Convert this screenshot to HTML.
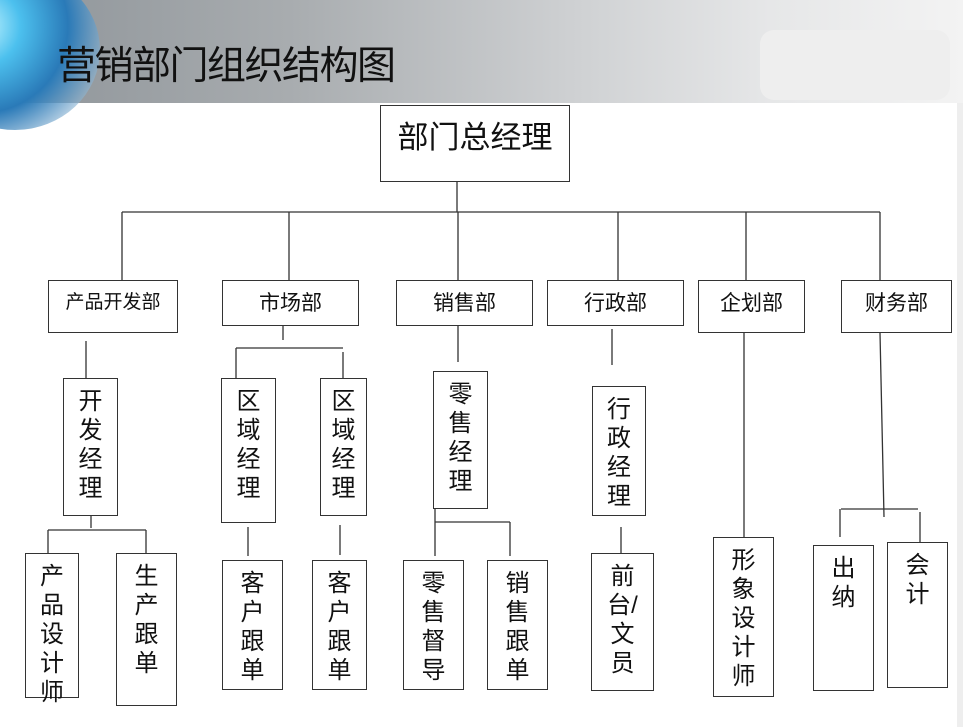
<!DOCTYPE html>
<html><head><meta charset="utf-8"><style>
body{margin:0;width:963px;height:727px;overflow:hidden;background:#fff;font-family:"Liberation Sans","Noto Sans CJK SC",sans-serif;position:relative}
.hdr{position:absolute;left:0;top:0;width:963px;height:103px;background:linear-gradient(90deg,#8e9499 0%,#a8acaf 30%,#cfd1d3 60%,#e6e7e8 80%,#f3f3f3 100%)}
.globe{position:absolute;left:-70px;top:-30px;width:170px;height:160px;border-radius:50%;background:radial-gradient(circle at 30% 35%,#c8f6ff 0%,#4cc0ee 25%,#2a7ab8 55%,rgba(190,210,225,0.5) 85%,rgba(220,228,235,0.2) 100%)}
.title{position:absolute;left:57px;top:35px;font-size:39px;color:#111;letter-spacing:-1.5px}
.blur{position:absolute;left:760px;top:30px;width:190px;height:70px;background:#eee;border-radius:14px}
.b{position:absolute;border:1.5px solid #333;box-sizing:border-box;background:#fff;text-align:center;color:#111}
.h{font-size:21px;padding-top:6px}
.v{font-size:24px;line-height:29px;padding-top:8px}
svg{position:absolute;left:0;top:0}
</style></head><body>
<div class="hdr"></div><div class="globe"></div><div class="blur"></div>
<div class="title">营销部门组织结构图</div>
<div style="position:absolute;right:0;top:103px;width:6px;height:624px;background:#eee"></div>
<svg width="963" height="727" stroke="#333" stroke-width="1.3" fill="none">
<path d="M457 181V212M122 212H880M122 212V281M289 212V281M458 212V281M618 212V281M746 212V281M880 212V281"/>
<path d="M86 341V378M91 515V528M48 530H146M48 530V553M146 530V553"/>
<path d="M283 325V340M236 348H343M236 348V378M343 352V378M248 527V556M340 525V555"/>
<path d="M458 325V362M435 508V522M435 522H510M435 522V556M510 522V556"/>
<path d="M612 329V365M621 527V553"/>
<path d="M744 333V538"/>
<path d="M880 333L884 517M841 509H918M840 509V537M920 512V543"/>
</svg>
<div class="b" style="left:380px;top:105px;width:190px;height:77px;font-size:31px;padding-top:6px">部门总经理</div>
<div class="b h" style="left:48px;top:280px;width:130px;height:53px;font-size:19px">产品开发部</div>
<div class="b h" style="left:222px;top:280px;width:137px;height:46px">市场部</div>
<div class="b h" style="left:396px;top:280px;width:137px;height:46px">销售部</div>
<div class="b h" style="left:547px;top:280px;width:137px;height:46px">行政部</div>
<div class="b h" style="left:698px;top:280px;width:107px;height:53px">企划部</div>
<div class="b h" style="left:841px;top:280px;width:111px;height:53px">财务部</div>

<div class="b v" style="left:63px;top:378px;width:55px;height:138px">开<br>发<br>经<br>理</div>
<div class="b v" style="left:221px;top:378px;width:55px;height:145px">区<br>域<br>经<br>理</div>
<div class="b v" style="left:320px;top:378px;width:47px;height:138px">区<br>域<br>经<br>理</div>
<div class="b v" style="left:433px;top:371px;width:55px;height:138px">零<br>售<br>经<br>理</div>
<div class="b v" style="left:592px;top:386px;width:54px;height:130px">行<br>政<br>经<br>理</div>

<div class="b v" style="left:25px;top:553px;width:54px;height:145px;line-height:29px">产<br>品<br>设<br>计<br>师</div>
<div class="b v" style="left:116px;top:553px;width:61px;height:153px">生<br>产<br>跟<br>单</div>
<div class="b v" style="left:222px;top:560px;width:61px;height:130px">客<br>户<br>跟<br>单</div>
<div class="b v" style="left:312px;top:560px;width:55px;height:130px">客<br>户<br>跟<br>单</div>
<div class="b v" style="left:403px;top:560px;width:61px;height:130px">零<br>售<br>督<br>导</div>
<div class="b v" style="left:487px;top:560px;width:61px;height:130px">销<br>售<br>跟<br>单</div>
<div class="b v" style="left:591px;top:553px;width:63px;height:138px">前<br>台/<br>文<br>员</div>
<div class="b v" style="left:713px;top:537px;width:61px;height:160px">形<br>象<br>设<br>计<br>师</div>
<div class="b v" style="left:813px;top:545px;width:61px;height:146px">出<br>纳</div>
<div class="b v" style="left:887px;top:542px;width:61px;height:146px">会<br>计</div>
</body></html>
